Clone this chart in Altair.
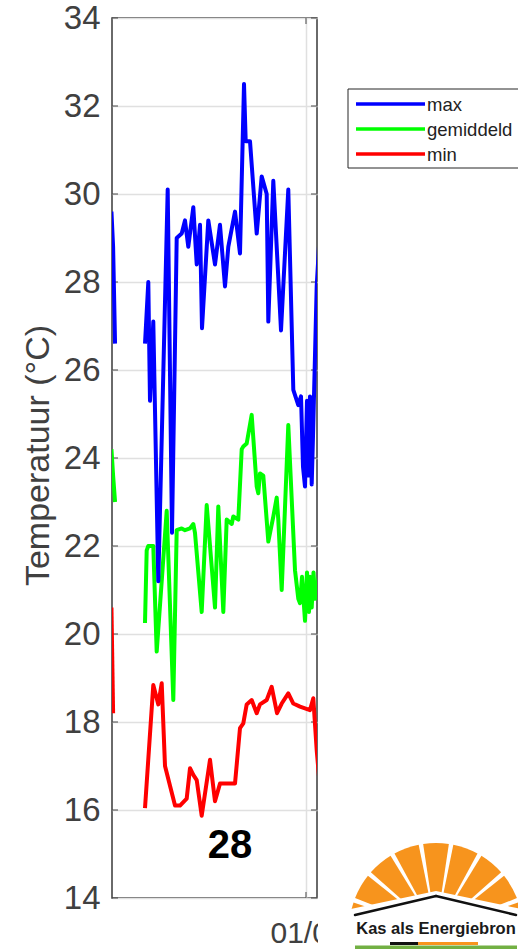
import math
import altair as alt
import pandas as pd

# ---------------- data ----------------
reeksen = ["max", "gemiddeld", "min"]
kleuren = ["#0000ff", "#00ff00", "#ff0000"]

# x = days since start of panel (tick "01/0.." at day 7)
max_dag_a = [-0.02, 0.04, 0.11]
max_temp_a = [29.6, 28.8, 26.6]
max_dag_b = [1.191, 1.310, 1.371, 1.490, 1.671, 2.010, 2.165, 2.335, 2.515, 2.634,
             2.753, 2.934, 3.057, 3.176, 3.248, 3.475, 3.717, 3.897, 4.078, 4.197,
             4.439, 4.619, 4.764, 4.825, 4.980, 5.222, 5.402, 5.583, 5.641, 5.821,
             6.099, 6.362, 6.543, 6.723, 6.821, 6.893, 6.965, 7.037, 7.091, 7.145,
             7.207, 7.254, 7.387, 7.578]
max_temp_b = [26.6, 28.0, 25.3, 27.1, 21.2, 30.1, 22.3, 29.0, 29.1, 29.4,
              28.8, 29.7, 28.4, 29.3, 26.95, 29.4, 28.4, 29.3, 27.9, 28.8,
              29.6, 28.65, 32.5, 31.2, 31.2, 29.1, 30.4, 30.0, 27.1, 30.3,
              26.9, 30.1, 25.55, 25.2, 25.4, 23.8, 23.35, 25.3, 23.6, 25.4,
              23.4, 24.5, 27.9, 30.0]

gem_dag_a = [-0.02, 0.04, 0.11]
gem_temp_a = [24.2, 23.6, 23.0]
gem_dag_b = [1.191, 1.252, 1.310, 1.490, 1.613, 1.974, 2.212, 2.335, 2.515, 2.634,
             2.815, 2.934, 2.995, 3.237, 3.418, 3.717, 3.836, 4.017, 4.139, 4.320,
             4.377, 4.558, 4.681, 4.738, 4.861, 5.041, 5.222, 5.280, 5.341, 5.460,
             5.641, 5.821, 5.944, 6.001, 6.124, 6.362, 6.604, 6.723, 6.785, 6.857,
             6.965, 7.037, 7.109, 7.145, 7.207, 7.272, 7.326, 7.387, 7.506]
gem_temp_b = [20.25, 21.9, 22.0, 22.0, 19.6, 22.8, 18.5, 22.36, 22.4, 22.36,
              22.4, 22.5, 22.3, 20.5, 22.93, 20.6, 22.9, 20.5, 22.6, 22.5,
              22.67, 22.6, 24.2, 24.26, 24.33, 24.98, 23.35, 23.2, 23.65, 23.6,
              22.1, 22.67, 23.1, 22.6, 21.0, 24.75, 21.45, 20.8, 20.7, 21.3,
              20.3, 21.4, 20.5, 21.3, 20.6, 21.4, 20.8, 21.0, 21.5]

min_dag_a = [-0.02, 0.04]
min_temp_a = [20.6, 18.2]
min_dag_b = [1.191, 1.490, 1.671, 1.794, 1.913, 2.093, 2.274, 2.454, 2.696, 2.815,
             2.934, 3.057, 3.237, 3.537, 3.717, 3.897, 4.320, 4.439, 4.619, 4.738,
             4.861, 5.041, 5.222, 5.341, 5.583, 5.763, 5.955, 6.124, 6.362, 6.543,
             6.785, 7.145, 7.264, 7.387, 7.506]
min_temp_b = [16.04, 18.84, 18.4, 18.88, 17.0, 16.55, 16.1, 16.1, 16.26, 16.95,
              16.8, 16.68, 15.87, 17.14, 16.2, 16.6, 16.6, 16.6, 17.86, 17.97,
              18.4, 18.5, 18.2, 18.4, 18.5, 18.8, 18.2, 18.42, 18.65, 18.42,
              18.35, 18.27, 18.54, 17.36, 16.5]

y_ticks = [14, 16, 18, 20, 22, 24, 26, 28, 30, 32, 34]
x_tick = [7]
x_tick_label = "01/0"
week_label = "28"
y_title = "Temperatuur (°C)"
logo_text = "Kas als Energiebron"
ray_angles = [-80, -60, -40, -20, 0, 20, 40, 60, 80]


def maak(reeks, delen):
    rijen = []
    for i, (dagen, temps) in enumerate(delen):
        for d, t in zip(dagen, temps):
            rijen.append({"reeks": reeks, "deel": i, "dag": d, "temp": t})
    return pd.DataFrame(rijen)


df_max = maak("max", [(max_dag_a, max_temp_a), (max_dag_b, max_temp_b)])
df_gem = maak("gemiddeld", [(gem_dag_a, gem_temp_a), (gem_dag_b, gem_temp_b)])
df_min = maak("min", [(min_dag_a, min_temp_a), (min_dag_b, min_temp_b)])

LABEL_GREY = "#404040"
FRAME = "#3a3a3a"

x_enc = alt.X(
    "dag:Q",
    scale=alt.Scale(domain=[0, 7.398], nice=False, zero=False),
    axis=alt.Axis(
        values=x_tick, labelExpr=f"'{x_tick_label}'", title=None, grid=True,
        ticks=False, tickSize=0, domain=False, labelFontSize=30,
        labelAlign="left", labelOffset=-36, labelPadding=20, labelColor=LABEL_GREY,
        gridColor="#e0e0e0", gridWidth=1.5, zindex=0,
    ),
)
y_enc = alt.Y(
    "temp:Q",
    scale=alt.Scale(domain=[14, 34], nice=False, zero=False),
    axis=alt.Axis(
        values=y_ticks, title=y_title, grid=True, ticks=False, tickSize=0,
        domain=False, labelFontSize=33, labelPadding=12, labelColor=LABEL_GREY,
        gridColor="#e0e0e0", gridWidth=1.5, titleFontSize=34,
        titleFontWeight="normal", titleColor=LABEL_GREY, titleX=-57, titleY=437,
        titleBaseline="bottom", titleAngle=270, zindex=0,
    ),
)
kleur = alt.Color("reeks:N", scale=alt.Scale(domain=reeksen, range=kleuren), legend=None)


def lijn(df):
    return alt.Chart(df).mark_line(
        strokeWidth=4, clip=True, strokeJoin="round"
    ).encode(x=x_enc, y=y_enc, color=kleur, detail="deel:N", order="dag:Q")


een = pd.DataFrame({"k": [0]})
df_yt = pd.DataFrame({"temp": y_ticks})
df_xt = pd.DataFrame({"dag": x_tick})

layers = []
# inward tick marks (MATLAB style)
for xpos in [3, 202]:
    layers.append(
        alt.Chart(df_yt).mark_tick(orient="horizontal", size=6, thickness=1.3, color=FRAME)
        .encode(y=y_enc, x=alt.value(xpos))
    )
for ypos in [3, 877]:
    layers.append(
        alt.Chart(df_xt).mark_tick(orient="vertical", size=6, thickness=1.3, color=FRAME)
        .encode(x=x_enc, y=alt.value(ypos))
    )

layers += [lijn(df_min), lijn(df_gem), lijn(df_max)]

# week number
layers.append(
    alt.Chart(een).mark_text(text=week_label, fontSize=40, fontWeight="bold",
                             color="black", align="center", baseline="alphabetic")
    .encode(x=alt.value(118), y=alt.value(840))
)

# legend (drawn by hand)
layers.append(
    alt.Chart(een).mark_rect(fill="white", stroke="#262626", strokeWidth=1)
    .encode(x=alt.value(236), x2=alt.value(440), y=alt.value(71), y2=alt.value(150))
)
for naam, kl, yy in zip(reeksen, kleuren, [86, 111, 136]):
    layers.append(
        alt.Chart(een).mark_rule(color=kl, strokeWidth=3.5)
        .encode(x=alt.value(244), x2=alt.value(313), y=alt.value(yy))
    )
    layers.append(
        alt.Chart(een).mark_text(text=naam, fontSize=18.5, color="#222222",
                                 align="left", baseline="alphabetic")
        .encode(x=alt.value(315), y=alt.value(yy + 6.5))
    )

# cover to crop the x label like the reference
layers.append(
    alt.Chart(een).mark_rect(fill="white")
    .encode(x=alt.value(206), x2=alt.value(236), y=alt.value(884), y2=alt.value(931))
)

# logo
CX = 324
df_rays = pd.DataFrame({
    "t1": [math.radians(a - 8.5) for a in ray_angles],
    "t2": [math.radians(a + 8.5) for a in ray_angles],
})
layers.append(
    alt.Chart(df_rays).mark_arc(color="#F7941D", radius=87, radius2=0)
    .encode(theta=alt.Theta("t1:Q", scale=None, stack=None), theta2="t2:Q",
            x=alt.value(CX), y=alt.value(912))
)
roof_shape = "M -0.90 -0.10 L 0 -0.29 L 0.90 -0.10 L 0.90 0.32 L -0.90 0.32 Z"
layers.append(
    alt.Chart(een).mark_point(shape=roof_shape, size=40000, filled=True, color="white",
                              opacity=1, fillOpacity=1, strokeWidth=0)
    .encode(x=alt.value(CX), y=alt.value(902))
)
layers.append(
    alt.Chart(een).mark_rule(color="#111111", strokeWidth=2.5, strokeCap="round")
    .encode(x=alt.value(243), y=alt.value(897), x2=alt.value(CX), y2=alt.value(878))
)
layers.append(
    alt.Chart(een).mark_rule(color="#111111", strokeWidth=2.5, strokeCap="round")
    .encode(x=alt.value(CX), y=alt.value(878), x2=alt.value(404), y2=alt.value(897))
)
layers.append(
    alt.Chart(een).mark_text(text=logo_text, fontSize=16.5, fontWeight="bold",
                             font="Liberation Sans", color="#1a1a1a",
                             align="center", baseline="alphabetic")
    .encode(x=alt.value(CX), y=alt.value(916))
)
layers.append(
    alt.Chart(een).mark_rule(color="#72b043", strokeWidth=4)
    .encode(x=alt.value(243), x2=alt.value(405), y=alt.value(929.5))
)
layers.append(
    alt.Chart(een).mark_rule(color="#111111", strokeWidth=3)
    .encode(x=alt.value(278), x2=alt.value(306), y=alt.value(925.5))
)
layers.append(
    alt.Chart(een).mark_rule(color="#F7941D", strokeWidth=3)
    .encode(x=alt.value(306), x2=alt.value(366), y=alt.value(925.5))
)

chart = (
    alt.layer(*layers)
    .properties(
        width=205, height=880,
        autosize=alt.AutoSizeParams(type="none"),
        padding={"left": 112, "top": 18, "right": 201, "bottom": 51},
    )
    .configure(font="Liberation Sans")
    .configure_view(stroke=FRAME, strokeWidth=1.5)
)

chart.save("out.html", embed_options={"renderer": "svg", "actions": False})
